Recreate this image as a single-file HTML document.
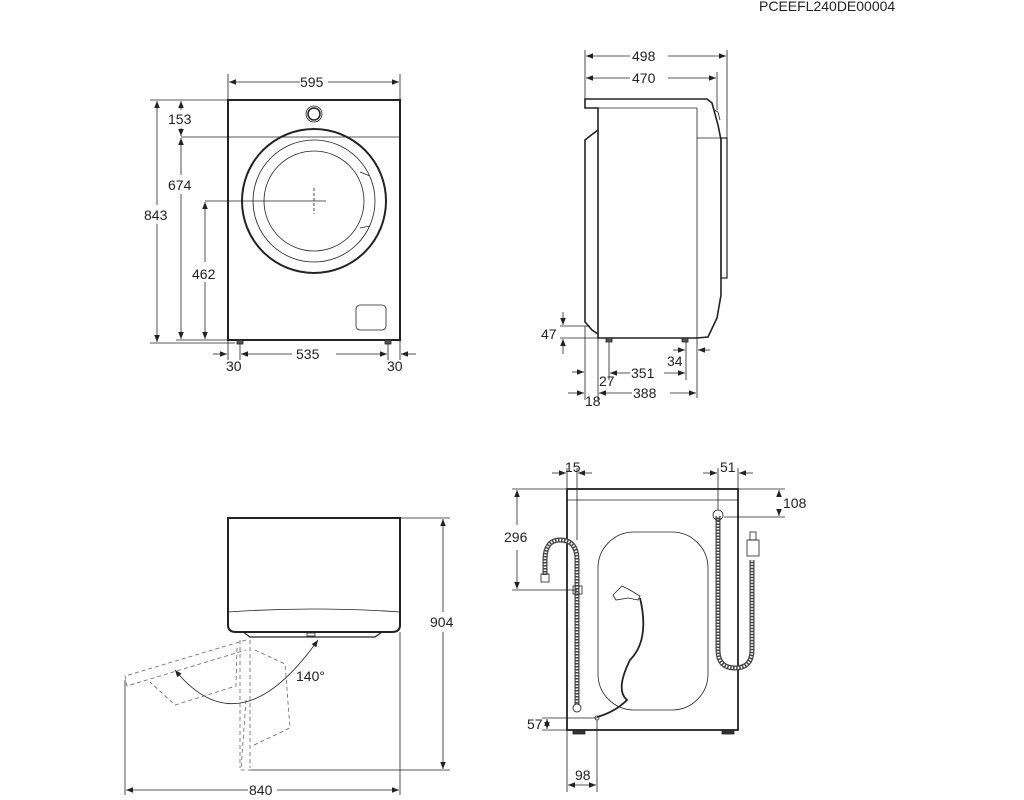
<!DOCTYPE html>
<html><head><meta charset="utf-8"><style>
html,body{margin:0;padding:0;background:#fff;}
svg{display:block;}
text{font-family:"Liberation Sans",sans-serif;font-size:14px;fill:#222;}
</style></head><body>
<svg width="1024" height="800" viewBox="0 0 1024 800" xmlns="http://www.w3.org/2000/svg">
<defs>
<marker id="a" viewBox="0 0 10 10" refX="10" refY="5" markerWidth="9" markerHeight="7" orient="auto-start-reverse" markerUnits="userSpaceOnUse"><path d="M0,1 L10,5 L0,9 z" fill="#222"/></marker>
</defs>
<text x="759" y="11">PCEEFL240DE00004</text>
<g stroke="#222" fill="none" stroke-width="0.8">
<!-- FRONT VIEW -->
<rect x="228" y="100" width="172" height="240" stroke-width="2"/>
<line x1="181" y1="137" x2="400" y2="137"/>
<circle cx="314" cy="114" r="8"/><circle cx="314" cy="114" r="6" stroke-width="1.5"/>
<circle cx="314" cy="201" r="72" stroke-width="2"/>
<circle cx="314" cy="201" r="61"/>
<circle cx="314" cy="201" r="50"/>
<path d="M360,172 L370,176 M360,228 L370,226" />
<line x1="205" y1="201" x2="326" y2="201"/>
<line x1="314" y1="188" x2="314" y2="214" stroke-dasharray="3,2"/>
<rect x="356" y="305" width="30" height="25" rx="4"/>
<rect x="237" y="340" width="6" height="4" fill="#555"/><rect x="385" y="340" width="6" height="4" fill="#555"/>
<line x1="228" y1="74" x2="228" y2="100"/><line x1="400" y1="74" x2="400" y2="100"/>
<line x1="229" y1="82" x2="300" y2="82" marker-start="url(#a)"/><line x1="328" y1="82" x2="399" y2="82" marker-end="url(#a)"/>
<line x1="150" y1="100" x2="228" y2="100"/><line x1="150" y1="343" x2="235" y2="343"/><line x1="176" y1="340" x2="228" y2="340"/>
<line x1="157" y1="101" x2="157" y2="205" marker-start="url(#a)"/><line x1="157" y1="224" x2="157" y2="342" marker-end="url(#a)"/>
<line x1="181" y1="101" x2="181" y2="110" marker-start="url(#a)"/><line x1="181" y1="128" x2="181" y2="136" marker-end="url(#a)"/>
<line x1="181" y1="138" x2="181" y2="175" marker-start="url(#a)"/><line x1="181" y1="194" x2="181" y2="339" marker-end="url(#a)"/>
<line x1="205" y1="202" x2="205" y2="262" marker-start="url(#a)"/><line x1="205" y1="282" x2="205" y2="339" marker-end="url(#a)"/>
<line x1="228" y1="340" x2="228" y2="360"/><line x1="240" y1="344" x2="240" y2="360"/><line x1="388" y1="344" x2="388" y2="360"/><line x1="400" y1="340" x2="400" y2="360"/>
<line x1="213" y1="354" x2="227" y2="354" marker-end="url(#a)"/>
<line x1="241" y1="354" x2="292" y2="354" marker-start="url(#a)"/><line x1="336" y1="354" x2="387" y2="354" marker-end="url(#a)"/>
<line x1="416" y1="354" x2="401" y2="354" marker-end="url(#a)"/>
<!-- SIDE VIEW -->
<path d="M585,99 L707,99 L712,103 L718,125 L721,140 L721,295 L717,318 L708,337 L697,338 L598,338 L598,108 L585,108 Z" stroke-width="1.6"/>
<line x1="697" y1="108" x2="697" y2="338"/><line x1="598" y1="108" x2="697" y2="108"/>
<line x1="697" y1="138" x2="721" y2="138"/>
<rect x="721" y="138" width="6" height="140" stroke-width="1.2"/>
<path d="M714,110 L718,112 L720,120" />
<path d="M598,130 L590,136 L585,140 L585,322 L592,330 L598,334" stroke-width="1.6"/>
<rect x="606" y="338" width="6" height="4" fill="#555"/><rect x="682" y="338" width="6" height="4" fill="#555"/>
<line x1="585" y1="50" x2="585" y2="99"/><line x1="727" y1="50" x2="727" y2="138"/><line x1="717" y1="72" x2="717" y2="110"/>
<line x1="586" y1="56" x2="630" y2="56" marker-start="url(#a)"/><line x1="668" y1="56" x2="726" y2="56" marker-end="url(#a)"/>
<line x1="586" y1="78" x2="630" y2="78" marker-start="url(#a)"/><line x1="668" y1="78" x2="716" y2="78" marker-end="url(#a)"/>
<line x1="560" y1="326" x2="590" y2="326"/><line x1="560" y1="338" x2="598" y2="338"/>
<line x1="563" y1="312" x2="563" y2="325" marker-end="url(#a)"/><line x1="563" y1="354" x2="563" y2="339" marker-end="url(#a)"/>
<line x1="585" y1="326" x2="585" y2="400"/><line x1="598" y1="338" x2="598" y2="400"/><line x1="609" y1="342" x2="609" y2="380"/>
<line x1="686" y1="342" x2="686" y2="380"/><line x1="697" y1="338" x2="697" y2="398"/>
<line x1="572" y1="372" x2="584" y2="372" marker-end="url(#a)"/>
<line x1="610" y1="373" x2="630" y2="373" marker-start="url(#a)"/><line x1="664" y1="373" x2="685" y2="373" marker-end="url(#a)"/>
<line x1="568" y1="393" x2="584" y2="393" marker-end="url(#a)"/>
<line x1="599" y1="393" x2="632" y2="393" marker-start="url(#a)"/><line x1="670" y1="393" x2="696" y2="393" marker-end="url(#a)"/>
<line x1="673" y1="350" x2="685" y2="350" marker-end="url(#a)"/><line x1="710" y1="350" x2="698" y2="350" marker-end="url(#a)"/>
<!-- TOP VIEW -->
<path d="M228,518 L400,518 L400,625 Q400,632 392,632 L236,632 Q228,632 228,625 Z" stroke-width="2"/>
<path d="M228,612 Q314,606 400,612"/>
<path d="M243,632 L250,637 L375,637 L382,632" stroke-width="1.2"/>
<rect x="307" y="633" width="8" height="3" />
<line x1="400" y1="518" x2="450" y2="518"/><line x1="250" y1="770" x2="450" y2="770"/>
<line x1="443" y1="519" x2="443" y2="612" marker-start="url(#a)"/><line x1="443" y1="632" x2="443" y2="769" marker-end="url(#a)"/>
<line x1="125" y1="680" x2="125" y2="795"/><line x1="400" y1="632" x2="400" y2="795"/>
<line x1="126" y1="790" x2="248" y2="790" marker-start="url(#a)"/><line x1="277" y1="790" x2="399" y2="790" marker-end="url(#a)"/>
<g stroke-dasharray="4,3" stroke="#666">
<path d="M246,640 L125,676 L127,686 L246,650"/>
<path d="M240,640 L240,768 M250,640 L250,768"/>
<path d="M237,648 L236,686 L175,705 L150,682"/>
<path d="M255,650 L285,664 L290,728 L254,745"/>
<path d="M246,700 L241,770 L255,770"/>
</g>
<path d="M175,670 Q240,750 318,640" marker-start="url(#a)" marker-end="url(#a)"/>
<!-- BACK VIEW -->
<rect x="567" y="489" width="171" height="241" stroke-width="1.8"/>
<line x1="567" y1="500" x2="738" y2="500"/>
<rect x="598" y="532" width="110" height="178" rx="36"/>
<rect x="573" y="730" width="12" height="4" fill="#333"/><rect x="722" y="730" width="12" height="4" fill="#333"/>
<path d="M577,705 L577,560 Q577,540 560,540 Q545,540 545,560 L545,575" stroke="#444" stroke-width="5"/>
<path d="M577,705 L577,560 Q577,540 560,540 Q545,540 545,560 L545,575" stroke="#fff" stroke-width="2.5" stroke-dasharray="1.5,1.5"/>
<rect x="541" y="574" width="8" height="8"/>
<rect x="573" y="586" width="9" height="8"/>
<circle cx="577" cy="708" r="4"/>
<path d="M718,516 L718,650 Q718,668 735,668 Q752,668 752,650 L752,560" stroke="#444" stroke-width="5"/>
<path d="M718,516 L718,650 Q718,668 735,668 Q752,668 752,650 L752,560" stroke="#fff" stroke-width="2.5" stroke-dasharray="1.5,1.5"/>
<circle cx="718" cy="515" r="5"/>
<rect x="747" y="540" width="12" height="16"/><rect x="750" y="532" width="6" height="8"/>
<path d="M640,598 Q650,640 630,660 Q615,690 627,700 Q615,712 597,717" stroke-width="1.8"/>
<path d="M613,595 L622,586 L630,590 L640,596 L638,600 L628,598 L616,600 Z"/>
<circle cx="597" cy="718" r="2"/>
<line x1="567" y1="468" x2="567" y2="489"/><line x1="577" y1="468" x2="577" y2="540"/>
<line x1="552" y1="473" x2="566" y2="473" marker-end="url(#a)"/><line x1="592" y1="473" x2="578" y2="473" marker-end="url(#a)"/>
<line x1="718" y1="468" x2="718" y2="510"/><line x1="738" y1="468" x2="738" y2="489"/>
<line x1="703" y1="473" x2="717" y2="473" marker-end="url(#a)"/><line x1="753" y1="473" x2="739" y2="473" marker-end="url(#a)"/>
<line x1="738" y1="489" x2="785" y2="489"/><line x1="724" y1="517" x2="785" y2="517"/>
<line x1="779" y1="497" x2="779" y2="490" marker-end="url(#a)"/><line x1="779" y1="509" x2="779" y2="516" marker-end="url(#a)"/>
<line x1="512" y1="489" x2="567" y2="489"/><line x1="512" y1="590" x2="577" y2="590"/>
<line x1="517" y1="490" x2="517" y2="525" marker-start="url(#a)"/><line x1="517" y1="550" x2="517" y2="589" marker-end="url(#a)"/>
<line x1="542" y1="718" x2="597" y2="718"/><line x1="542" y1="730" x2="567" y2="730"/>
<line x1="547" y1="719" x2="547" y2="729" marker-start="url(#a)" marker-end="url(#a)"/>
<line x1="567" y1="730" x2="567" y2="792"/><line x1="597" y1="720" x2="597" y2="792"/>
<line x1="568" y1="785" x2="596" y2="785" marker-start="url(#a)" marker-end="url(#a)"/>
</g>
<text x="300" y="87">595</text>
<text x="168" y="124">153</text>
<text x="168" y="190">674</text>
<text x="144" y="220">843</text>
<text x="192" y="279">462</text>
<text x="226" y="371">30</text>
<text x="296" y="359">535</text>
<text x="387" y="371">30</text>
<text x="632" y="61">498</text>
<text x="632" y="83">470</text>
<text x="541" y="339">47</text>
<text x="667" y="366">34</text>
<text x="631" y="378">351</text>
<text x="599" y="386">27</text>
<text x="633" y="398">388</text>
<text x="585" y="406">18</text>
<text x="296" y="681">140°</text>
<text x="430" y="627">904</text>
<text x="249" y="795">840</text>
<text x="565" y="472">15</text>
<text x="720" y="472">51</text>
<text x="783" y="508">108</text>
<text x="504" y="542">296</text>
<text x="527" y="729">57</text>
<text x="575" y="780">98</text>
</svg>
</body></html>
